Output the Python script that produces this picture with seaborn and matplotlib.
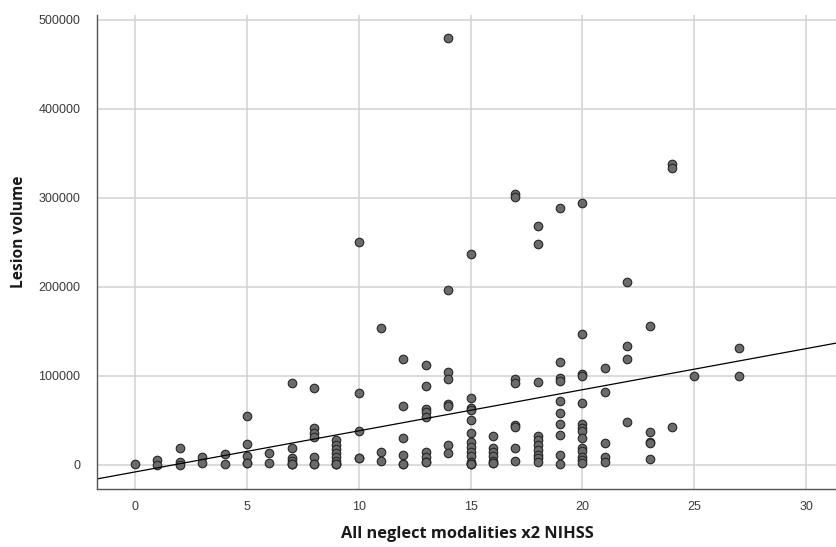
import matplotlib
matplotlib.use("Agg")
import matplotlib.pyplot as plt
import seaborn as sns
import pandas as pd

# NIHSS neglect score (x) -> lesion volumes (y) observed at that score
# (repeated values are cases that sit exactly on top of each other)
score_0 = [1000]
score_1 = [5600, 500]
score_2 = [19000, 3000, 500]
score_3 = [9400, 2000]
score_4 = [12700, 800]
score_5 = [54800, 23300, 10500, 1900, 1900]
score_6 = [13100, 2600]
score_7 = [92000, 18800, 7500, 4500, 1100, 1100, 1100]
score_8 = [86000, 41000, 35700, 31900, 9400, 1100, 1100]
score_9 = [28000, 22500, 17600, 13100, 8600, 4500, 1100, 1100, 1100]
score_10 = [250800, 80700, 38600, 7500, 7500]
score_11 = [154000, 14300, 4500]
score_12 = [119000, 65700, 30700, 11300, 1100, 1100]
score_13 = [111800, 88200, 63400, 60000, 54400, 15000, 8700, 3800, 3800]
score_14 = [479400, 196300, 105000, 96500, 68700, 65700, 22500, 13100]
score_15 = [237300, 75000, 63800, 62000, 50700, 36400, 26000, 20600, 15000, 10100, 3700, 1100, 1100, 1100]
score_16 = [32700, 18800, 15000, 10100, 4500, 1900, 1900]
score_17 = [304000, 301500, 96500, 92000, 45000, 42400, 18800, 4500]
score_18 = [269000, 248000, 93000, 32700, 28200, 22500, 16900, 11300, 7500, 3800]
score_19 = [289000, 115600, 97600, 94900, 72000, 58900, 45800, 33400, 10900, 1100]
score_20 = [294700, 147500, 102500, 100200, 69500, 45800, 41300, 38300, 30700, 18800, 16100, 9400, 5600, 2600]
score_21 = [108900, 82500, 24400, 8600, 3700]
score_22 = [206000, 134000, 119000, 48800]
score_23 = [156500, 36600, 26000, 25100, 6600]
score_24 = [338000, 334000, 42400]
score_25 = [100200]
score_27 = [131400, 100200]

groups = {0: score_0, 1: score_1, 2: score_2, 3: score_3, 4: score_4, 5: score_5,
          6: score_6, 7: score_7, 8: score_8, 9: score_9, 10: score_10, 11: score_11,
          12: score_12, 13: score_13, 14: score_14, 15: score_15, 16: score_16,
          17: score_17, 18: score_18, 19: score_19, 20: score_20, 21: score_21,
          22: score_22, 23: score_23, 24: score_24, 25: score_25, 27: score_27}

x_ticks = [0, 5, 10, 15, 20, 25, 30]
y_ticks = [0, 100000, 200000, 300000, 400000, 500000]

xs, ys = [], []
for k, vals in groups.items():
    for v in vals:
        xs.append(k)
        ys.append(v)
df = pd.DataFrame({"All neglect modalities x2 NIHSS": xs, "Lesion volume": ys})

sns.set_style("white")
plt.rcParams['font.family'] = ['Liberation Sans', 'DejaVu Sans']

fig = plt.figure(figsize=(8.37, 5.47), dpi=100)
ax = fig.add_axes([97 / 837, 1 - 489 / 547, 740 / 837, 474 / 547])

xlim = (-1.70, 31.38)
ylim = (-27000, 505600)
ax.set_xlim(*xlim)
ax.set_ylim(*ylim)

sns.regplot(data=df, x="All neglect modalities x2 NIHSS", y="Lesion volume", ax=ax,
            ci=None, truncate=False,
            scatter_kws=dict(s=38, color="#6b6b6b", edgecolor="#262626", linewidths=0.8, alpha=1),
            line_kws=dict(color="black", lw=0.9))

ax.set_xlim(*xlim)
ax.set_ylim(*ylim)
ax.set_xticks(x_ticks)
ax.set_yticks(y_ticks)
ax.set_axisbelow(True)
ax.grid(True, color="#d2d2d2", lw=1.1)
ax.tick_params(axis="both", length=0, labelsize=9, labelcolor="#3a3a3a")
ax.tick_params(axis="y", pad=12)
ax.tick_params(axis="x", pad=9)
for s in ["top", "right"]:
    ax.spines[s].set_visible(False)
for s in ["left", "bottom"]:
    ax.spines[s].set_color("#555555")
    ax.spines[s].set_linewidth(1.0)

ax.set_xlabel("All neglect modalities x2 NIHSS", fontsize=11.8, fontweight="bold",
              family=["Open Sans", "DejaVu Sans"], color="#1a1a1a", labelpad=9)
ax.set_ylabel("Lesion volume", fontsize=11.2, fontweight="bold",
              family=["Open Sans", "DejaVu Sans"], color="#1a1a1a")
ax.yaxis.set_label_coords(-0.095, 0.542)

fig.savefig("out.png", dpi=100)
